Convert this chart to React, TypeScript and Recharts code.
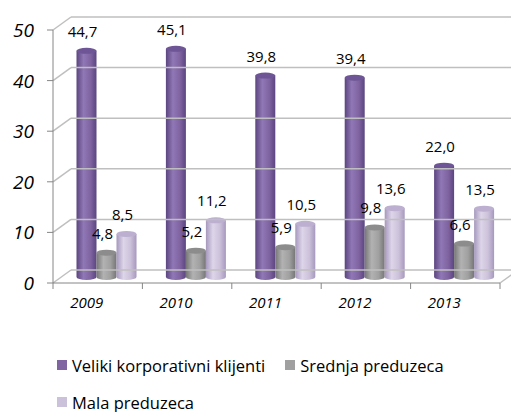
import { Bar, BarChart, LabelList, Legend, ReferenceLine, XAxis, YAxis } from 'recharts'

const years = ['2009', '2010', '2011', '2012', '2013']
const veliki = [44.7, 45.1, 39.8, 39.4, 22.0]
const srednja = [4.8, 5.2, 5.9, 9.8, 6.6]
const mala = [8.5, 11.2, 10.5, 13.6, 13.5]
const yTicks = [0, 10, 20, 30, 40, 50]

const data = years.map((year, i) => ({ year, veliki: veliki[i], srednja: srednja[i], mala: mala[i] }))

const W = 511
const H = 412
const LEFT = 53
const RIGHT = 500
const TOP = 30
const BOTTOM = 283
const X_AXIS_H = 30
// 3d depth: back wall offset and bar (middle) offset
const DX = 18
const DY = -13
const BX = 8.5
const BY = -6
const FONT = '"Open Sans", sans-serif'
const AXIS = '#868686'
const GRID = '#BFBFBF'

const series = [
  { key: 'veliki', name: 'Veliki korporativni klijenti', fill: '#8064A2', dark: '#5B4580', light: '#9077B5', top: '#6E5595' },
  { key: 'srednja', name: 'Srednja preduzeca', fill: '#A0A0A0', dark: '#767676', light: '#B2B2B2', top: '#8C8C8C' },
  { key: 'mala', name: 'Mala preduzeca', fill: '#CCC1DA', dark: '#A698BD', light: '#DDD5E9', top: '#BCAFD0' },
]

function fmt(v: number) {
  return v.toFixed(1).replace('.', ',')
}

function Cylinder(props: any) {
  const { x, y, width, height, gid } = props
  if (!height || height <= 0) return null
  const cx = x + width / 2 + BX
  const rx = width / 2
  const ry = 3
  const top = y + BY
  const base = y + height + BY
  return (
    <g>
      <path
        d={`M${cx - rx},${top} L${cx - rx},${base} A${rx},${ry} 0 0 0 ${cx + rx},${base} L${cx + rx},${top} Z`}
        fill={`url(#${gid})`}
      />
      <ellipse cx={cx} cy={top} rx={rx} ry={ry} fill={props.topFill} />
    </g>
  )
}

function DataLabel(props: any) {
  const { x, y, width, value } = props
  return (
    <text
      x={x + width / 2 + BX - 4}
      y={y + BY - 20}
      textAnchor="middle"
      dominantBaseline="central"
      fontFamily={FONT}
      fontSize={15}
      fill="#000"
    >
      {fmt(value)}
    </text>
  )
}

function YTick(props: any) {
  const { y, payload } = props
  return (
    <text x={34} y={y} textAnchor="end" dominantBaseline="central" fontFamily={FONT} fontStyle="italic" fontSize={19} fill="#000">
      {payload.value}
    </text>
  )
}

function XTick(props: any) {
  const { x, payload, index } = props
  const band = (RIGHT - LEFT) / years.length
  return (
    <g>
      <line x1={x - band / 2} y1={BOTTOM} x2={x - band / 2} y2={BOTTOM + 6} stroke={AXIS} />
      {index === years.length - 1 && <line x1={x + band / 2} y1={BOTTOM} x2={x + band / 2} y2={BOTTOM + 6} stroke={AXIS} />}
      <text x={x - 11} y={BOTTOM + 19} textAnchor="middle" dominantBaseline="central" fontFamily={FONT} fontStyle="italic" fontSize={15} fill="#000">
        {payload.value}
      </text>
    </g>
  )
}

// wall gridline: left-side diagonal + line on the back wall (+ right floor edge at 0)
function WallLine(props: any) {
  const { x1, x2, y1, floor } = props
  if (x1 == null || y1 == null) return null
  return (
    <g>
      <line x1={x1} y1={y1} x2={x1 + DX} y2={y1 + DY} stroke={GRID} strokeWidth={1.5} />
      <line x1={x1 + DX} y1={y1 + DY} x2={x2 + DX} y2={y1 + DY} stroke={GRID} strokeWidth={1.5} />
      {floor && <line x1={x2} y1={y1} x2={x2 + DX} y2={y1 + DY} stroke={GRID} strokeWidth={1.5} />}
    </g>
  )
}

function LegendContent(props: any) {
  const items = [...(props.payload || [])].sort(
    (a: any, b: any) => series.findIndex((s) => s.name === a.value) - series.findIndex((s) => s.name === b.value),
  )
  return (
    <div style={{ display: 'flex', flexWrap: 'wrap', width: 420, paddingLeft: 57, rowGap: 17, columnGap: 20, fontFamily: FONT, fontSize: 16.5 }}>
      {items.map((it: any) => (
        <div key={it.value} style={{ display: 'flex', alignItems: 'center', height: 20 }}>
          <span style={{ width: 10, height: 10, background: it.color, marginRight: 5, display: 'inline-block' }} />
          <span>{it.value}</span>
        </div>
      ))}
    </div>
  )
}

export default function App() {
  return (
    <div style={{ position: 'absolute', left: 0, top: 0, width: W, height: H, background: '#fff' }}>
      <BarChart
        width={W}
        height={H}
        data={data}
        margin={{ top: TOP, right: W - RIGHT, bottom: H - BOTTOM - X_AXIS_H, left: 0 }}
        barSize={20}
        barGap={0}
      >
        <defs>
          {series.map((s) => (
            <linearGradient key={s.key} id={`g-${s.key}`} x1="0" y1="0" x2="1" y2="0">
              <stop offset="0%" stopColor={s.dark} />
              <stop offset="35%" stopColor={s.light} />
              <stop offset="70%" stopColor={s.fill} />
              <stop offset="100%" stopColor={s.dark} />
            </linearGradient>
          ))}
        </defs>
        {yTicks.map((v) => (
          <ReferenceLine key={v} y={v} shape={(p: any) => <WallLine {...p} floor={v === 0} />} />
        ))}
        <YAxis
          width={LEFT}
          domain={[0, 50]}
          ticks={yTicks}
          interval={0}
          axisLine={{ stroke: AXIS }}
          tickLine={{ stroke: AXIS }}
          tickSize={6}
          tick={<YTick />}
        />
        <XAxis dataKey="year" height={X_AXIS_H} axisLine={{ stroke: AXIS }} tickLine={false} tick={<XTick />} interval={0} />
        {series.map((s) => (
          <Bar
            key={s.key}
            dataKey={s.key}
            name={s.name}
            fill={s.fill}
            isAnimationActive={false}
            shape={(p: any) => <Cylinder {...p} gid={`g-${s.key}`} topFill={s.top} />}
          >
            <LabelList dataKey={s.key} content={<DataLabel />} />
          </Bar>
        ))}
        <Legend
          layout="horizontal"
          verticalAlign="middle"
          align="center"
          wrapperStyle={{ left: 0, top: 355, width: W }}
          content={<LegendContent />}
        />
      </BarChart>
    </div>
  )
}
